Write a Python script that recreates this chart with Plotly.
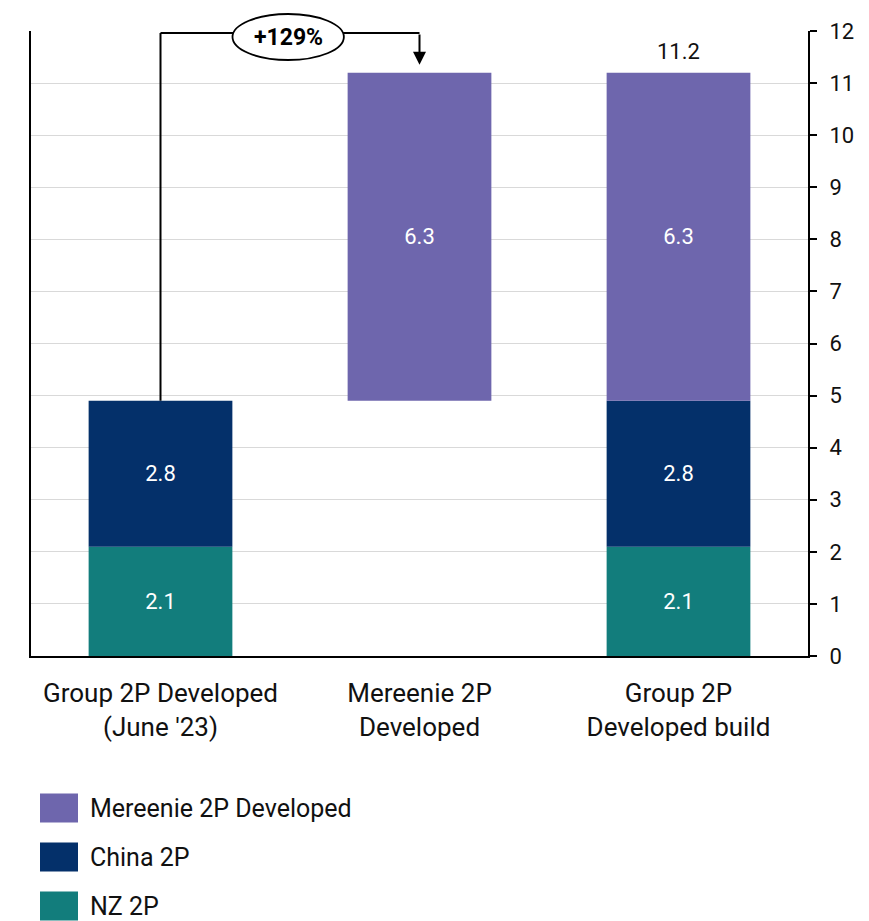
import plotly.graph_objects as go

categories = ["Group 2P Developed<br>(June '23)", "Mereenie 2P<br>Developed", "Group 2P<br>Developed build"]
nz_2p = [2.1, None, 2.1]
china_2p = [2.8, None, 2.8]
mereenie_2p = [None, 6.3, 6.3]
total_label = "11.2"
change_label = "+129%"
tick_vals = list(range(0, 13))
legend_names = ["Mereenie 2P Developed", "China 2P", "NZ 2P"]

col_m = "#6E66AD"
col_c = "#04306A"
col_n = "#127D7C"
legend_colors = [col_m, col_c, col_n]
font_family = "Roboto"

W, H = 869, 921
ML, MR, MT, MB = 31, 61, 31, 265
plot_w = W - ML - MR
plot_h = H - MT - MB


def z(v):
    return 0 if v is None else v


start_total = z(nz_2p[0]) + z(china_2p[0])
base_china = [z(a) for a in nz_2p]
base_m = [z(a) + z(b) for a, b in zip(nz_2p, china_2p)]
base_m[1] = start_total  # Mereenie step floats on top of the June '23 total
end_total = base_m[2] + z(mereenie_2p[2])

x = [0, 1, 2]
fig = go.Figure()
common = dict(width=0.555, textposition="inside", insidetextanchor="middle",
              textfont=dict(color="white", size=22, family=font_family), textangle=0,
              hoverinfo="skip", showlegend=False)
fig.add_trace(go.Bar(x=x, y=nz_2p, base=[0, 0, 0], name="NZ 2P", marker=dict(color=col_n, line=dict(width=0)),
                     text=[f"{v}" if v is not None else "" for v in nz_2p], **common))
fig.add_trace(go.Bar(x=x, y=china_2p, base=base_china, name="China 2P", marker=dict(color=col_c, line=dict(width=0)),
                     text=[f"{v}" if v is not None else "" for v in china_2p], **common))
fig.add_trace(go.Bar(x=x, y=mereenie_2p, base=base_m, name="Mereenie 2P Developed",
                     marker=dict(color=col_m, line=dict(width=0)),
                     text=[f"{v}" if v is not None else "" for v in mereenie_2p], **common))

# connector: from top of first bar up, across, down arrow to second bar
y_top = 11.96
y_tip = 11.35
fig.add_shape(type="line", xref="x", yref="y", x0=0, x1=0, y0=start_total, y1=y_top,
              line=dict(color="black", width=2))
fig.add_shape(type="line", xref="x", yref="y", x0=0, x1=1, y0=y_top, y1=y_top,
              line=dict(color="black", width=2))
fig.add_annotation(x=1, y=y_tip, ax=1, ay=y_top, xref="x", yref="y", axref="x", ayref="y",
                   showarrow=True, arrowhead=2, arrowsize=1.3, arrowwidth=2, arrowcolor="black", text="")


def px(v):
    return (v + 0.5) / 3.0


def py_px(ypix):
    return (H - MB - ypix) / plot_h


def px_px(xpix):
    return (xpix - ML) / plot_w


fig.add_shape(type="circle", xref="paper", yref="paper", x0=px(0.278), x1=px(0.708),
              y0=py_px(60), y1=py_px(14),
              fillcolor="white", line=dict(color="black", width=1.8), layer="above")
fig.add_annotation(x=px(0.493), y=py_px(37), xref="paper", yref="paper", text=f"<b>{change_label}</b>",
                   xanchor="center", yanchor="middle",
                   showarrow=False, font=dict(size=23, color="black", family=font_family))
fig.add_annotation(x=2, y=end_total, xref="x", yref="y", text=total_label, showarrow=False,
                   xanchor="center", yanchor="bottom", yshift=7,
                   font=dict(size=22, color="#111", family=font_family))

# custom legend (large square swatches)
leg_centers = [808, 857, 906]
for name, colr, yc in zip(legend_names, legend_colors, leg_centers):
    fig.add_shape(type="rect", xref="paper", yref="paper", x0=px_px(40), x1=px_px(78),
                  y0=py_px(yc + 14.5), y1=py_px(yc - 14.5), fillcolor=colr, line=dict(width=0))
    fig.add_annotation(x=px_px(88), y=py_px(yc), xref="paper", yref="paper", text=name,
                       xanchor="left", yanchor="middle", showarrow=False,
                       font=dict(size=25, color="#111", family=font_family))

fig.update_layout(
    width=W, height=H,
    margin=dict(l=ML, r=MR, t=MT, b=MB, autoexpand=False),
    plot_bgcolor="white", paper_bgcolor="white",
    barmode="overlay",
    font=dict(family=font_family, color="#111"),
    showlegend=False,
    xaxis=dict(tickmode="array", tickvals=x, ticktext=categories, range=[-0.5, 2.5],
               showline=True, linecolor="black", linewidth=2, ticks="", showgrid=False,
               ticklabelstandoff=13, automargin=False,
               tickfont=dict(size=26, color="#111", family=font_family), fixedrange=True),
    yaxis=dict(side="right", range=[0, 12], tickvals=tick_vals, showgrid=True, gridcolor="#d9d9d9",
               gridwidth=1, showline=True, linecolor="black", linewidth=2, mirror=True,
               ticks="outside", ticklen=7, tickcolor="black", tickwidth=2, ticklabelstandoff=8,
               automargin=False,
               tickfont=dict(size=22, color="#111", family=font_family), zeroline=False),
)

fig.write_html("out.html", config={"displayModeBar": False},
               post_script="document.body.style.margin='0';document.body.style.overflow='hidden';")
